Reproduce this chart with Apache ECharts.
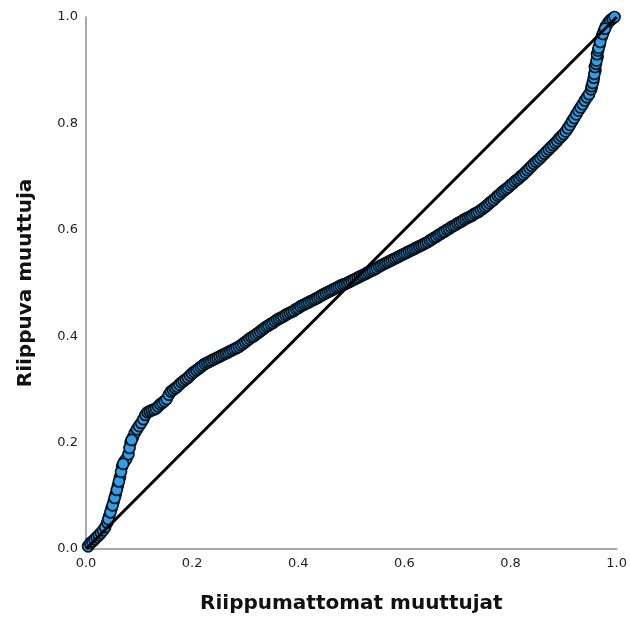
<!DOCTYPE html>
<html>
<head>
<meta charset="utf-8">
<script src="https://cdn.jsdelivr.net/npm/echarts@6/dist/echarts.min.js"></script>
<style>
  html, body { margin: 0; padding: 0; background: #fff; }
  #chart { width: 630px; height: 621px; }
</style>
</head>
<body>
<div id="chart"></div>
<script>
// P-P plot points: x = independent, y = dependent cumulative probability
var probX = [
    0.004, 0.008, 0.012, 0.016, 0.020, 0.024, 0.028, 0.032, 0.036, 0.040,
    0.044, 0.048, 0.052, 0.056, 0.060, 0.064, 0.068, 0.072, 0.076, 0.080,
    0.084, 0.088, 0.092, 0.096, 0.100, 0.104, 0.108, 0.112, 0.116, 0.120,
    0.124, 0.128, 0.132, 0.136, 0.140, 0.144, 0.148, 0.152, 0.156, 0.160,
    0.164, 0.168, 0.172, 0.176, 0.180, 0.184, 0.188, 0.192, 0.196, 0.200,
    0.204, 0.208, 0.212, 0.216, 0.220, 0.224, 0.228, 0.232, 0.236, 0.240,
    0.244, 0.248, 0.252, 0.256, 0.260, 0.264, 0.268, 0.272, 0.276, 0.280,
    0.284, 0.288, 0.292, 0.296, 0.300, 0.304, 0.308, 0.312, 0.316, 0.320,
    0.324, 0.328, 0.332, 0.336, 0.340, 0.344, 0.348, 0.352, 0.356, 0.360,
    0.364, 0.368, 0.372, 0.376, 0.380, 0.384, 0.388, 0.392, 0.396, 0.400,
    0.404, 0.408, 0.412, 0.416, 0.420, 0.424, 0.428, 0.432, 0.436, 0.440,
    0.444, 0.448, 0.452, 0.456, 0.460, 0.464, 0.468, 0.472, 0.476, 0.480,
    0.484, 0.488, 0.492, 0.496, 0.500, 0.504, 0.508, 0.512, 0.516, 0.520,
    0.524, 0.528, 0.532, 0.536, 0.540, 0.544, 0.548, 0.552, 0.556, 0.560,
    0.564, 0.568, 0.572, 0.576, 0.580, 0.584, 0.588, 0.592, 0.596, 0.600,
    0.604, 0.608, 0.612, 0.616, 0.620, 0.624, 0.628, 0.632, 0.636, 0.640,
    0.644, 0.648, 0.652, 0.656, 0.660, 0.664, 0.668, 0.672, 0.676, 0.680,
    0.684, 0.688, 0.692, 0.696, 0.700, 0.704, 0.708, 0.712, 0.716, 0.720,
    0.724, 0.728, 0.732, 0.736, 0.740, 0.744, 0.748, 0.752, 0.756, 0.760,
    0.764, 0.768, 0.772, 0.776, 0.780, 0.784, 0.788, 0.792, 0.796, 0.800,
    0.804, 0.808, 0.812, 0.816, 0.820, 0.824, 0.828, 0.832, 0.836, 0.840,
    0.844, 0.848, 0.852, 0.856, 0.860, 0.864, 0.868, 0.872, 0.876, 0.880,
    0.884, 0.888, 0.892, 0.896, 0.900, 0.904, 0.908, 0.912, 0.916, 0.920,
    0.924, 0.928, 0.932, 0.936, 0.940, 0.944, 0.948, 0.952, 0.956, 0.960,
    0.964, 0.968, 0.972, 0.976, 0.980, 0.984, 0.988, 0.992, 0.996,
    // steep stretches hold more cases
    0.042, 0.046, 0.050, 0.054, 0.058, 0.062, 0.066, 0.070, 0.082, 0.086,
    0.953, 0.955, 0.957, 0.958, 0.959, 0.961, 0.962, 0.963, 0.965, 0.966,
    0.969, 0.974, 0.978
];
var probY = [
    0.005, 0.011, 0.014, 0.018, 0.022, 0.026, 0.030, 0.035, 0.041, 0.050,
    0.062, 0.076, 0.089, 0.103, 0.119, 0.135, 0.155, 0.164, 0.169, 0.178,
    0.200, 0.209, 0.218, 0.225, 0.231, 0.237, 0.244, 0.252, 0.257, 0.259,
    0.261, 0.262, 0.264, 0.268, 0.272, 0.275, 0.278, 0.282, 0.290, 0.296,
    0.299, 0.302, 0.305, 0.309, 0.313, 0.316, 0.319, 0.322, 0.326, 0.330,
    0.333, 0.336, 0.339, 0.342, 0.345, 0.348, 0.350, 0.352, 0.354, 0.356,
    0.358, 0.360, 0.362, 0.364, 0.366, 0.368, 0.370, 0.372, 0.374, 0.376,
    0.378, 0.380, 0.383, 0.386, 0.389, 0.392, 0.395, 0.398, 0.400, 0.403,
    0.406, 0.409, 0.412, 0.415, 0.418, 0.420, 0.423, 0.425, 0.428, 0.431,
    0.433, 0.435, 0.437, 0.440, 0.442, 0.444, 0.446, 0.448, 0.451, 0.453,
    0.456, 0.458, 0.460, 0.462, 0.464, 0.466, 0.468, 0.470, 0.472, 0.474,
    0.477, 0.479, 0.481, 0.483, 0.485, 0.487, 0.489, 0.491, 0.493, 0.495,
    0.497, 0.498, 0.500, 0.502, 0.504, 0.506, 0.508, 0.510, 0.512, 0.514,
    0.516, 0.518, 0.520, 0.522, 0.524, 0.526, 0.528, 0.531, 0.533, 0.535,
    0.537, 0.539, 0.541, 0.543, 0.545, 0.547, 0.549, 0.551, 0.553, 0.555,
    0.557, 0.559, 0.561, 0.563, 0.565, 0.567, 0.569, 0.571, 0.573, 0.575,
    0.577, 0.580, 0.582, 0.585, 0.587, 0.590, 0.592, 0.595, 0.597, 0.600,
    0.602, 0.605, 0.607, 0.609, 0.612, 0.614, 0.616, 0.619, 0.621, 0.623,
    0.625, 0.627, 0.630, 0.632, 0.634, 0.637, 0.640, 0.643, 0.646, 0.650,
    0.653, 0.656, 0.660, 0.664, 0.667, 0.671, 0.674, 0.677, 0.680, 0.684,
    0.687, 0.691, 0.694, 0.697, 0.701, 0.704, 0.708, 0.712, 0.716, 0.720,
    0.724, 0.728, 0.731, 0.735, 0.739, 0.743, 0.747, 0.751, 0.755, 0.759,
    0.763, 0.767, 0.772, 0.776, 0.780, 0.785, 0.791, 0.797, 0.804, 0.810,
    0.817, 0.824, 0.830, 0.836, 0.843, 0.849, 0.855, 0.864, 0.880, 0.900,
    0.925, 0.948, 0.963, 0.974, 0.983, 0.989, 0.994, 0.997, 1.000,
    0.056, 0.069, 0.082, 0.096, 0.111, 0.127, 0.145, 0.160, 0.190, 0.205,
    0.870, 0.876, 0.886, 0.893, 0.906, 0.912, 0.918, 0.930, 0.937, 0.942,
    0.953, 0.968, 0.978
];
var refLine = [[0, 0], [1, 1]];
var xName = 'Riippumattomat muuttujat';
var yName = 'Riippuva muuttuja';

var points = [];
for (var i = 0; i < probX.length; i++) {
    points.push([probX[i], probY[i]]);
}

var chart = echarts.init(document.getElementById('chart'));

function axis(name, gap) {
    return {
        type: 'value',
        min: 0,
        max: 1,
        interval: 0.2,
        name: name,
        nameLocation: 'middle',
        nameGap: gap,
        nameTextStyle: {
            fontFamily: 'DejaVu Sans',
            fontWeight: 'bold',
            fontSize: 20,
            color: '#111'
        },
        axisLine: { show: true, lineStyle: { color: '#8c8c8c', width: 1.5 } },
        axisTick: { show: false },
        splitLine: { show: false },
        axisLabel: {
            fontFamily: 'DejaVu Sans',
            fontSize: 13,
            color: '#222',
            margin: 8,
            formatter: function (v) { return v.toFixed(1); }
        }
    };
}

var option = {
    backgroundColor: '#fff',
    animation: false,
    grid: { left: 86, right: 11, top: 17, bottom: 72 },
    xAxis: axis(xName, 45),
    yAxis: axis(yName, 50),
    series: [
        {
            type: 'scatter',
            data: points,
            symbolSize: 11,
            clip: false,
            itemStyle: {
                color: '#319de8',
                borderColor: '#08131c',
                borderWidth: 1.7,
                opacity: 1
            },
            z: 2
        },
        {
            type: 'line',
            data: refLine,
            symbol: 'none',
            lineStyle: { color: '#000', width: 3 },
            z: 3
        }
    ]
};

chart.setOption(option);
</script>
</body>
</html>
